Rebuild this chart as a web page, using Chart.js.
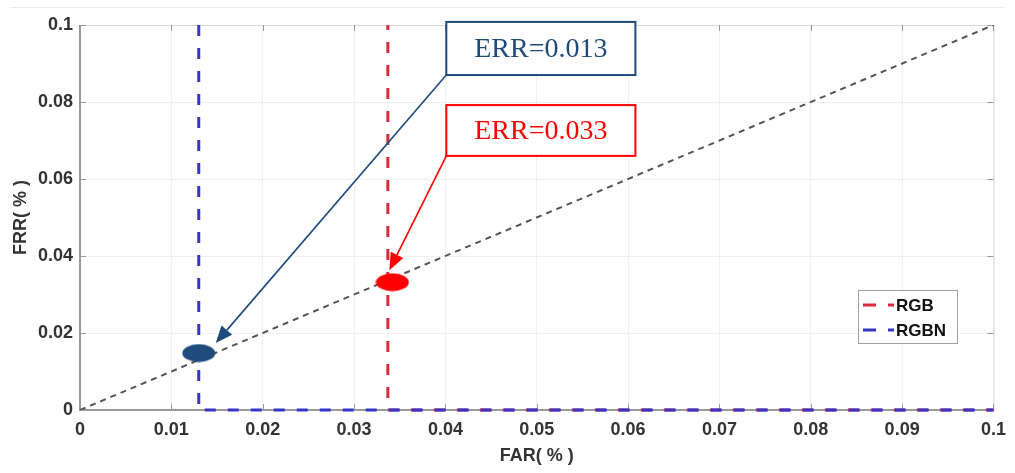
<!DOCTYPE html>
<html>
<head>
<meta charset="utf-8">
<script src="https://cdn.jsdelivr.net/npm/chart.js@4"></script>
<style>
  html, body { margin: 0; padding: 0; background: #ffffff; }
  #wrap { width: 1015px; height: 473px; }
</style>
</head>
<body>
<div id="wrap"><canvas id="errChart" width="1015" height="473"></canvas></div>
<script>
// Diagonal FAR = FRR reference line
const diagX = [0, 0.1];
const diagY = [0, 0.1];

// RGB curve (FAR vs FRR)
const rgbX = [0.0337, 0.0337, 0.1];
const rgbY = [0.1, 0, 0];

// RGBN curve
const rgbnX = [0.013, 0.013, 0.1];
const rgbnY = [0.1, 0, 0];

// Equal error rate points
const errLabels = ['ERR=0.013', 'ERR=0.033'];
const errX = [0.013, 0.0342];
const errY = [0.0148, 0.0332];

const seriesLabels = ['RGB', 'RGBN'];

const toPoints = (xs, ys) => xs.map((x, i) => ({ x: x, y: ys[i] }));

// filled ellipse markers
function ellipseMarker(color) {
    const c = document.createElement('canvas');
    c.width = 34;
    c.height = 19;
    const g = c.getContext('2d');
    g.fillStyle = color;
    g.beginPath();
    g.ellipse(17, 9.5, 16.5, 9, 0, 0, Math.PI * 2);
    g.fill();
    return c;
}

const navy = '#1f4a7c';
const red = '#ff0000';

// annotation boxes (box in data coords, arrow tip offset from the ERR marker in px)
const notes = [
    { text: errLabels[0], color: navy, x0: 0.0401, x1: 0.0608, y0: 0.1008, y1: 0.0870, tip: [17, -10] },
    { text: errLabels[1], color: red, x0: 0.0401, x1: 0.0608, y0: 0.0792, y1: 0.0660, tip: [-3, -12] }
];

const framePlugin = {
    id: 'frame',
    beforeDraw(chart) {
        const ctx = chart.ctx;
        ctx.save();
        ctx.fillStyle = '#ffffff';
        ctx.fillRect(0, 0, chart.width, chart.height);
        ctx.strokeStyle = '#ececec';
        ctx.lineWidth = 1;
        ctx.beginPath();
        ctx.moveTo(10, 7.5);
        ctx.lineTo(1005, 7.5);
        ctx.stroke();
        ctx.restore();
    },
    beforeDatasetsDraw(chart) {
        const ctx = chart.ctx;
        const a = chart.chartArea;
        const xs = chart.scales.x, ys = chart.scales.y;
        ctx.save();
        ctx.strokeStyle = '#d8d8d8';
        ctx.lineWidth = 1;
        ctx.strokeRect(a.left + 0.5, a.top + 0.5, a.right - a.left, a.bottom - a.top);
        // inward ticks
        ctx.strokeStyle = '#999999';
        ctx.beginPath();
        xs.ticks.forEach(t => {
            const px = Math.round(xs.getPixelForValue(t.value)) + 0.5;
            ctx.moveTo(px, a.bottom); ctx.lineTo(px, a.bottom - 6);
            ctx.moveTo(px, a.top); ctx.lineTo(px, a.top + 6);
        });
        ys.ticks.forEach(t => {
            const py = Math.round(ys.getPixelForValue(t.value)) + 0.5;
            ctx.moveTo(a.left, py); ctx.lineTo(a.left + 6, py);
            ctx.moveTo(a.right, py); ctx.lineTo(a.right - 6, py);
        });
        ctx.stroke();
        ctx.strokeStyle = '#9a9a9a';
        ctx.lineWidth = 2;
        ctx.beginPath();
        ctx.moveTo(a.left, a.top);
        ctx.lineTo(a.left, a.bottom);
        ctx.lineTo(a.right, a.bottom);
        ctx.stroke();
        ctx.restore();
    },
    afterDraw(chart) {
        const ctx = chart.ctx;
        const xs = chart.scales.x, ys = chart.scales.y;
        const errMeta = chart.getDatasetMeta(3);
        ctx.save();
        notes.forEach((n, i) => {
            const l = xs.getPixelForValue(n.x0), r = xs.getPixelForValue(n.x1);
            const t = ys.getPixelForValue(n.y0), b = ys.getPixelForValue(n.y1);
            ctx.fillStyle = '#ffffff';
            ctx.fillRect(l, t, r - l, b - t);
            ctx.strokeStyle = n.color;
            ctx.lineWidth = 2;
            ctx.strokeRect(l, t, r - l, b - t);
            ctx.fillStyle = n.color;
            ctx.font = '28px "Liberation Serif", "Times New Roman", serif';
            ctx.textAlign = 'center';
            ctx.textBaseline = 'middle';
            ctx.fillText(n.text, (l + r) / 2, (t + b) / 2 + 1);

            // arrow
            const pt = errMeta.data[i];
            const tx = pt.x + n.tip[0], ty = pt.y + n.tip[1];
            const sx = l, sy = b;
            const ang = Math.atan2(ty - sy, tx - sx);
            const head = 17, half = 7;
            const bx = tx - head * Math.cos(ang), by = ty - head * Math.sin(ang);
            ctx.lineWidth = 1.6;
            ctx.beginPath();
            ctx.moveTo(sx, sy);
            ctx.lineTo(bx, by);
            ctx.stroke();
            ctx.beginPath();
            ctx.moveTo(tx, ty);
            ctx.lineTo(bx + half * Math.sin(ang), by - half * Math.cos(ang));
            ctx.lineTo(bx - half * Math.sin(ang), by + half * Math.cos(ang));
            ctx.closePath();
            ctx.fill();
        });

        // legend box, MATLAB style
        const lx = 858, ly = 290, lw = 99, lh = 53;
        ctx.fillStyle = '#ffffff';
        ctx.fillRect(lx, ly, lw, lh);
        ctx.strokeStyle = '#a0a0a0';
        ctx.lineWidth = 1;
        ctx.strokeRect(lx + 0.5, ly + 0.5, lw, lh);
        [1, 2].forEach((di, k) => {
            const ds = chart.data.datasets[di];
            const yy = ly + 15 + k * 25;
            ctx.strokeStyle = ds.borderColor;
            ctx.lineWidth = 3;
            ctx.setLineDash([13, 12]);
            ctx.beginPath();
            ctx.moveTo(lx + 5, yy);
            ctx.lineTo(lx + 36, yy);
            ctx.stroke();
            ctx.setLineDash([]);
            ctx.fillStyle = '#111111';
            ctx.font = 'bold 17px "Liberation Sans", Arial, sans-serif';
            ctx.textAlign = 'left';
            ctx.textBaseline = 'middle';
            ctx.fillText(ds.label, lx + 38, yy + 1);
        });
        ctx.restore();
    }
};

const tickFont = { family: '"Liberation Sans", Arial, sans-serif', size: 18, weight: 'bold' };

new Chart(document.getElementById('errChart'), {
    type: 'scatter',
    data: {
        datasets: [
            {
                label: 'FAR = FRR',
                data: toPoints(diagX, diagY),
                showLine: true,
                borderColor: '#555555',
                borderWidth: 2,
                borderDash: [6, 5],
                pointRadius: 0,
                order: 3
            },
            {
                label: seriesLabels[0],
                data: toPoints(rgbX, rgbY),
                showLine: true,
                borderColor: '#dc2a3c',
                borderWidth: 3,
                borderDash: [11, 12],
                // keep the bottom run in phase with the blue dashes so it hides under them
                borderDashOffset: 6,
                pointRadius: 0,
                clip: 4,
                order: 2
            },
            {
                label: seriesLabels[1],
                data: toPoints(rgbnX, rgbnY),
                showLine: true,
                borderColor: '#3535c8',
                borderWidth: 3,
                borderDash: [11, 12],
                pointRadius: 0,
                clip: 4,
                order: 1
            },
            {
                label: 'ERR',
                data: toPoints(errX, errY),
                showLine: false,
                pointStyle: [ellipseMarker(navy), ellipseMarker(red)],
                pointRadius: 10,
                order: 0
            }
        ]
    },
    options: {
        responsive: false,
        devicePixelRatio: 1,
        animation: false,
        layout: { padding: { top: 25, right: 17, left: 10, bottom: 6 } },
        plugins: {
            legend: { display: false },
            tooltip: { enabled: false }
        },
        scales: {
            x: {
                type: 'linear',
                min: 0,
                max: 0.1,
                afterFit: s => { s.height = 57; },
                ticks: {
                    stepSize: 0.01,
                    padding: 9,
                    color: '#333333',
                    font: tickFont,
                    callback: v => Number(v.toFixed(2)).toString()
                },
                grid: { color: '#f0f0f0', drawTicks: false },
                border: { display: false },
                title: { display: true, text: 'FAR( % )', color: '#333333', font: { ...tickFont, size: 18 }, padding: 0 }
            },
            y: {
                type: 'linear',
                min: 0,
                max: 0.1,
                afterFit: s => { s.width = 70; },
                ticks: {
                    stepSize: 0.02,
                    padding: 7,
                    color: '#333333',
                    font: tickFont,
                    callback: v => Number(v.toFixed(2)).toString()
                },
                grid: { color: '#f0f0f0', drawTicks: false },
                border: { display: false },
                title: { display: true, text: 'FRR( % )', color: '#333333', font: { ...tickFont, size: 18 }, padding: 0 }
            }
        }
    },
    plugins: [framePlugin]
});
</script>
</body>
</html>
